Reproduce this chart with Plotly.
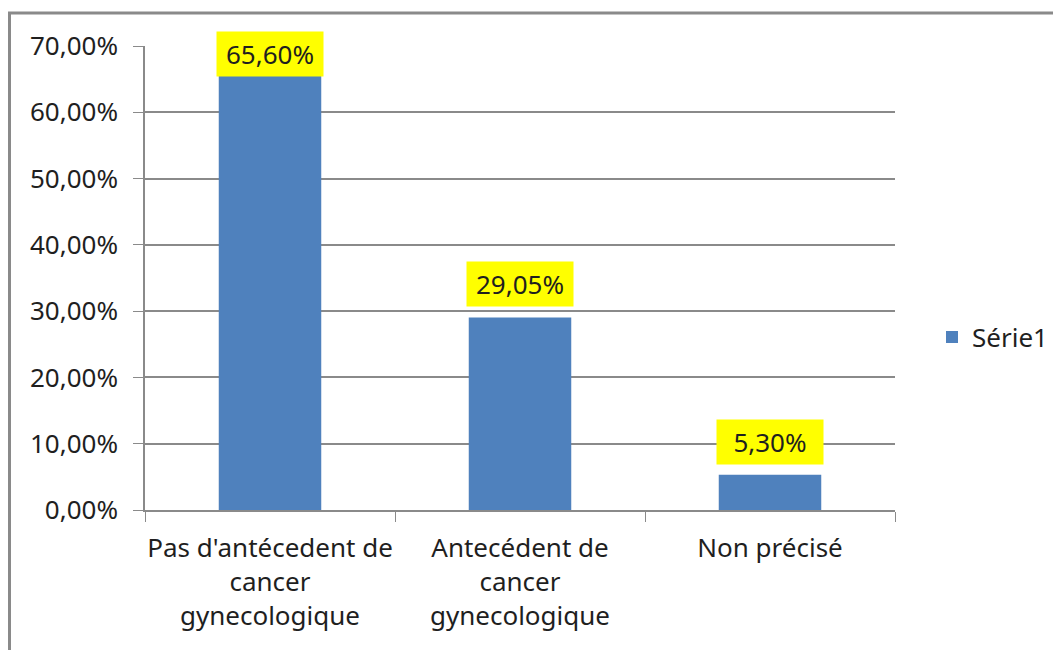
import plotly.graph_objects as go

categories = ["Pas d'antécedent de<br>cancer<br>gynecologique",
              "Antecédent de<br>cancer<br>gynecologique",
              "Non précisé"]
values = [0.656, 0.2905, 0.053]
labels = ["65,60%", "29,05%", "5,30%"]
series_name = "Série1"

# page offset (body margin) compensation
OFF = 8
W, H = 1061, 650
L, R, T, B = 145 - OFF, 895 - OFF, 46 - OFF, 510 - OFF
YMAX = 0.7

def px_x(p):
    return (p - L) / (R - L)

def px_y(p):
    return (B - p) / (B - T)

FONT = "Noto Sans"
TXT = "#1f1f1f"
GRID = "#8a8a8a"
FS = 26

fig = go.Figure()
fig.add_trace(go.Bar(x=categories, y=values, name=series_name,
                     marker=dict(color="#4F81BD", line=dict(width=0))))

BOX_H = 44
annotations = []
for c, v, t in zip(categories, values, labels):
    bar_top = B - v / YMAX * (B - T)
    shift = 10
    min_top = 33 - OFF
    if bar_top - shift - BOX_H < min_top:
        shift = bar_top - BOX_H - min_top
    annotations.append(dict(x=c, y=v, xref="x", yref="y", text=t, showarrow=False,
                            yanchor="bottom", yshift=shift, bgcolor="#FFFF00",
                            width=100, height=BOX_H - 6, borderpad=3,
                            font=dict(family=FONT, size=FS, color=TXT)))

shapes = [
    dict(type="line", xref="paper", yref="paper", x0=px_x(0), x1=px_x(W + 5),
         y0=px_y(13 - OFF), y1=px_y(13 - OFF), line=dict(color="#8a8a8a", width=3)),
    dict(type="line", xref="paper", yref="paper", x0=px_x(1.5), x1=px_x(1.5),
         y0=px_y(13 - OFF), y1=px_y(H + 5), line=dict(color="#8a8a8a", width=3)),
]

fig.update_layout(
    width=W, height=H,
    margin=dict(l=L, r=W - R, t=T, b=H - B, autoexpand=False),
    paper_bgcolor="white", plot_bgcolor="white",
    separators=", ",
    bargap=0.59,
    showlegend=True,
    legend=dict(x=px_x(924), y=px_y(337 - OFF), xanchor="left", yanchor="middle",
                xref="paper", yref="paper",
                font=dict(family=FONT, size=FS, color=TXT),
                itemwidth=30),
    font=dict(family=FONT, color=TXT),
    xaxis=dict(showline=True, linecolor=GRID, linewidth=1.5,
               ticks="outside", tickson="boundaries", ticklen=10, tickcolor=GRID,
               tickfont=dict(family=FONT, size=FS, color=TXT),
               tickangle=0, automargin=False,
               ticklabelstandoff=14,
               showgrid=False),
    yaxis=dict(range=[0, YMAX], dtick=0.1, tickformat=".2%",
               showline=True, linecolor=GRID, linewidth=1.5,
               ticks="outside", ticklen=10, tickcolor=GRID,
               ticklabelstandoff=10, automargin=False,
               showgrid=True, gridcolor=GRID, gridwidth=1.5,
               tickfont=dict(family=FONT, size=FS, color=TXT),
               zeroline=False),
    annotations=annotations,
    shapes=shapes,
)

fig.write_html("out.html")
